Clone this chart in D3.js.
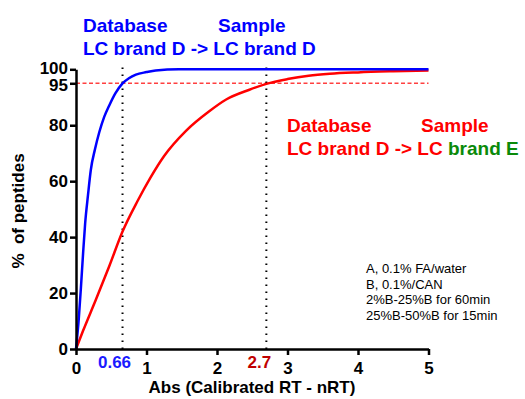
<!DOCTYPE html>
<meta charset="utf-8">
<script src="https://d3js.org/d3.v7.min.js"></script>
<style>
  body { margin: 0; background: #fff; }
  svg { font-family: "Liberation Sans", Arial, sans-serif; }
</style>
<div id="chart"></div>
<script>
// cumulative % of peptides vs abs(calibrated RT - nRT)
var blueX = [0, 0.04, 0.07, 0.1, 0.13, 0.17, 0.21, 0.27, 0.33, 0.4, 0.47, 0.56, 0.66, 0.75, 0.85, 1.0, 1.13, 1.46, 2.0, 5];
var blueY = [0, 11, 22, 34, 45, 55, 64, 71.5, 77.5, 83, 87, 91.5, 95, 96.8, 98.1, 99, 99.6, 100, 100, 100];
var redX = [0, 0.1, 0.28, 0.47, 0.66, 0.875, 1.05, 1.25, 1.56, 1.89, 2.13, 2.46, 2.7, 3.0, 3.3, 3.6, 4.0, 4.5, 5];
var redY = [0, 6.5, 17.5, 29.5, 42, 53, 61, 69, 78, 85, 89.2, 92.7, 94.8, 96.5, 97.7, 98.4, 98.9, 99.3, 99.6];

var xTicks = [0, 1, 2, 3, 4, 5];
var yTicks = [0, 20, 40, 60, 80, 95, 100];
var cutoffY = 95;
var markX = [0.66, 2.7];
var markLabels = ["0.66", "2.7"];
var legendLines = ["A, 0.1% FA/water", "B, 0.1%/CAN", "2%B-25%B for 60min", "25%B-50%B for 15min"];

var width = 525, height = 399;

var svg = d3.select("#chart").append("svg")
  .attr("width", width)
  .attr("height", height);

var x = d3.scaleLinear().domain([0, 5]).range([76, 428.5]);
var y = d3.scaleLinear().domain([0, 100]).range([349, 69.3]);

// 95% cutoff line
svg.append("line")
  .attr("x1", x(0)).attr("x2", x(5))
  .attr("y1", y(cutoffY)).attr("y2", y(cutoffY))
  .attr("stroke", "#ff4040")
  .attr("stroke-width", 1.6)
  .attr("stroke-dasharray", "4,2.5");

// dotted verticals
svg.selectAll(".mark")
  .data(markX)
  .enter()
  .append("line")
  .attr("x1", function (d) { return x(d); })
  .attr("x2", function (d) { return x(d); })
  .attr("y1", y(0))
  .attr("y2", y(101))
  .attr("stroke", "#000")
  .attr("stroke-width", 2)
  .attr("stroke-dasharray", "1.6,5.4");

var line = d3.line()
  .x(function (d) { return x(d[0]); })
  .y(function (d) { return y(d[1]); })
  .curve(d3.curveMonotoneX);

svg.append("path")
  .datum(d3.zip(redX, redY))
  .attr("fill", "none")
  .attr("stroke", "#ff0000")
  .attr("stroke-width", 2.5)
  .attr("d", line);

svg.append("path")
  .datum(d3.zip(blueX, blueY))
  .attr("fill", "none")
  .attr("stroke", "#0000ff")
  .attr("stroke-width", 2.5)
  .attr("d", line);

// axes
var xAxis = svg.append("g")
  .attr("transform", "translate(0," + y(0) + ")")
  .call(d3.axisBottom(x).tickValues(xTicks).tickFormat(d3.format("d")).tickSize(6).tickSizeOuter(0));

var yAxis = svg.append("g")
  .attr("transform", "translate(" + x(0) + ",0)")
  .call(d3.axisLeft(y).tickValues(yTicks).tickFormat(d3.format("d")).tickSize(6).tickSizeOuter(0));

[xAxis, yAxis].forEach(function (g) {
  g.select(".domain").attr("stroke", "#000").attr("stroke-width", 2.5);
  g.selectAll(".tick line").attr("stroke", "#000").attr("stroke-width", 2.5);
  g.selectAll(".tick text")
    .attr("fill", "#000")
    .style("font-size", "17px")
    .style("font-weight", "bold")
    .style("font-family", "Liberation Sans, Arial, sans-serif");
});
xAxis.selectAll(".tick text").attr("dy", "0.95em");
yAxis.selectAll(".tick text").attr("x", -8);
// 100 and 95 sit close together: nudge them apart a little
yAxis.selectAll(".tick text").filter(function (d) { return d === 100; }).attr("y", -1.5);
yAxis.selectAll(".tick text").filter(function (d) { return d === 95; }).attr("y", 1.5);

// cutoff labels on x axis
var markColors = ["#1a1aff", "#c00000"];
var markOffsets = [-8, -7];
svg.selectAll(".markLabel")
  .data(markX)
  .enter()
  .append("text")
  .attr("x", function (d, i) { return x(d) + markOffsets[i]; })
  .attr("y", 368)
  .attr("text-anchor", "middle")
  .style("font-size", "17px")
  .style("font-weight", "bold")
  .attr("fill", function (d, i) { return markColors[i]; })
  .text(function (d, i) { return markLabels[i]; });

// axis titles
svg.append("text")
  .attr("x", 252)
  .attr("y", 393)
  .attr("text-anchor", "middle")
  .style("font-size", "17px")
  .style("font-weight", "bold")
  .text("Abs (Calibrated RT - nRT)");

svg.append("text")
  .attr("transform", "translate(24,211) rotate(-90)")
  .attr("text-anchor", "middle")
  .style("font-size", "17px")
  .style("font-weight", "bold")
  .style("white-space", "pre")
  .text("%  of peptides");

// blue title
var blueTitle = svg.append("g").attr("fill", "#0000ff")
  .style("font-size", "19px").style("font-weight", "bold");
blueTitle.append("text").attr("x", 83).attr("y", 32).text("Database");
blueTitle.append("text").attr("x", 218).attr("y", 32).text("Sample");
blueTitle.append("text").attr("x", 83).attr("y", 55).text("LC brand D -> LC brand D");

// red title
var redTitle = svg.append("g").attr("fill", "#ff0000")
  .style("font-size", "19px").style("font-weight", "bold");
redTitle.append("text").attr("x", 287).attr("y", 132).text("Database");
redTitle.append("text").attr("x", 421).attr("y", 132).text("Sample");
var redLine2 = redTitle.append("text").attr("x", 287).attr("y", 155);
redLine2.append("tspan").text("LC brand D -> LC ");
redLine2.append("tspan").attr("fill", "#0a8a0a").text("brand E");

// gradient notes
svg.selectAll(".note")
  .data(legendLines)
  .enter()
  .append("text")
  .attr("x", 366)
  .attr("y", function (d, i) { return 273 + i * 15.6; })
  .style("font-size", "13px")
  .attr("fill", "#000")
  .text(function (d) { return d; });
</script>
